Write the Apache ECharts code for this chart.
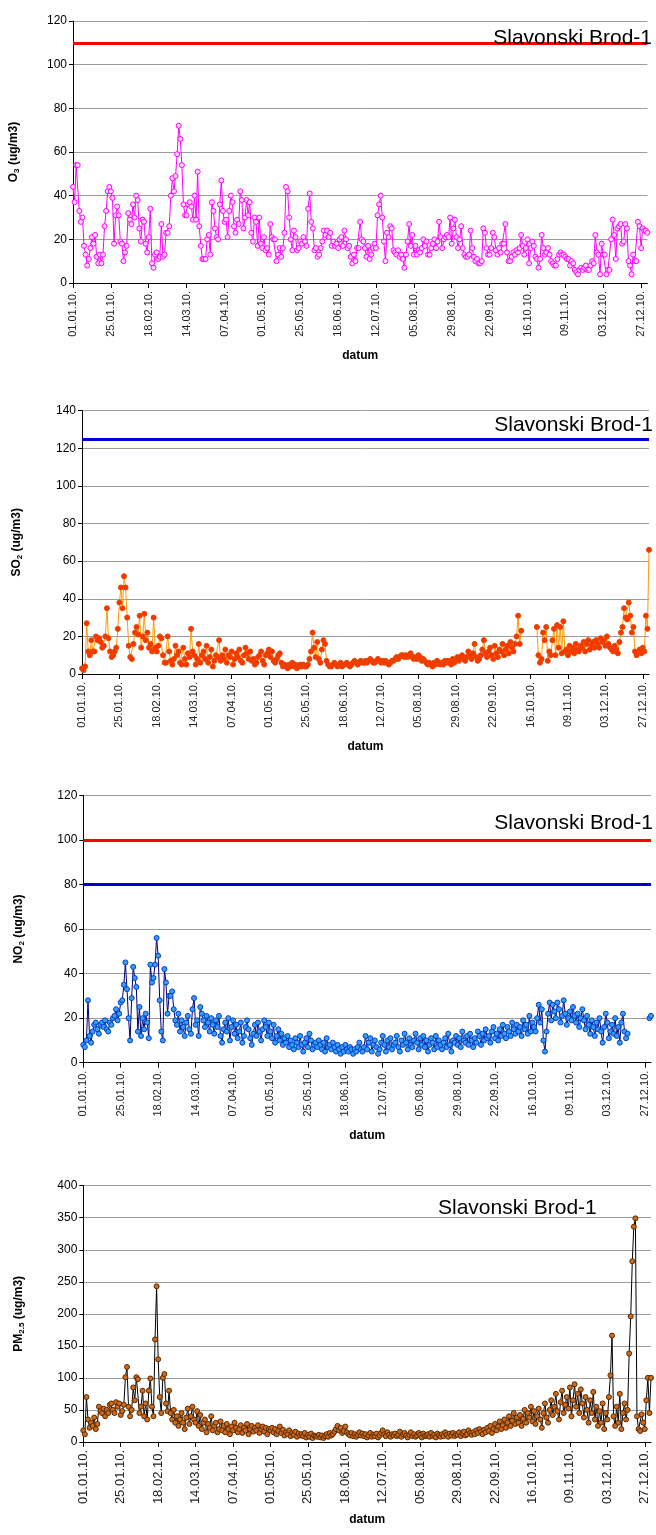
<!DOCTYPE html>
<html>
<head>
<meta charset="utf-8">
<script src="https://cdn.jsdelivr.net/npm/echarts@6/dist/echarts.min.js"></script>
<style>
  html, body { margin: 0; padding: 0; background: #ffffff; }
  #chart { width: 656px; height: 1535px; }
</style>
</head>
<body>
<div id="chart"></div>
<script>
// Daily mean concentrations, Slavonski Brod-1, year 2010 (ug/m3)
const o3 = [
  44,37,54,54,33,28,30,17,13,8,
  11,16,21,18,22,12,9,13,9,13,
  26,33,42,44,42,39,18,31,35,31,
  19,18,10,14,17,32,29,27,36,30,
  40,38,25,19,29,28,18,14,21,34,
  9,7,13,14,11,12,27,12,13,23,
  23,26,40,48,42,49,59,72,66,54,
  36,31,31,36,37,35,29,40,29,51,
  26,17,11,11,11,20,22,13,37,33,
  25,21,20,36,47,33,28,29,21,33,
  40,37,26,23,29,27,42,38,25,30,
  38,31,37,23,19,30,28,17,30,18,
  16,21,15,16,13,27,21,20,20,10,
  13,16,12,16,23,44,42,30,20,15,
  24,21,15,16,19,18,21,19,17,34,
  41,28,25,15,16,12,13,16,19,24,
  22,24,21,23,17,19,17,18,16,20,
  21,17,24,20,16,17,12,9,13,10,
  16,16,28,20,19,16,12,17,11,13,
  16,18,16,31,36,40,30,19,10,23,
  21,26,25,15,14,13,15,12,13,11,
  7,13,19,27,17,22,13,17,13,15,
  14,16,20,17,19,13,13,16,18,20,
  16,19,28,21,16,20,21,22,21,30,
  18,25,29,21,16,20,26,16,13,12,
  12,13,24,16,12,10,11,9,9,10,
  25,23,16,13,13,16,23,21,15,13,
  16,14,18,18,27,14,10,10,12,14,
  13,15,14,16,22,17,13,16,20,9,
  16,19,17,12,11,7,11,22,16,13,
  14,16,13,10,9,8,8,11,13,14,
  13,13,12,11,11,8,10,9,6,5,
  4,6,7,6,7,8,6,6,8,10,
  9,22,14,13,4,18,13,13,4,6,
  6,20,29,22,11,25,26,27,18,19,
  27,25,10,8,4,13,10,10,28,26,
  16,25,24,24,23
];

const so2 = [
  3,2,4,27,12,10,18,12,12,20,
  18,19,17,14,15,20,35,19,12,9,
  10,12,14,24,38,46,35,52,46,30,
  15,9,8,16,22,25,21,31,14,20,
  32,18,22,14,16,12,30,14,12,15,
  20,19,10,6,6,20,12,7,5,8,
  15,10,12,6,5,14,8,5,11,9,
  24,12,10,5,8,16,6,10,12,8,
  15,6,9,13,4,7,10,9,18,7,
  10,8,13,6,10,9,12,5,8,11,
  9,13,7,6,10,14,11,8,12,7,
  8,5,6,9,10,12,7,5,10,11,
  13,9,12,7,6,8,10,11,6,4,
  5,4,3,5,4,6,4,5,3,4,
  5,4,5,4,4,5,8,12,22,14,
  9,17,8,6,13,18,16,7,5,4,
  4,5,6,5,4,5,6,4,5,5,
  6,5,4,5,6,7,6,5,6,7,
  6,6,7,6,7,8,7,6,6,7,
  8,7,6,7,6,7,6,5,6,7,
  7,8,9,8,9,10,10,9,10,9,
  10,11,9,8,9,8,10,9,7,8,
  7,6,5,6,5,4,6,5,7,6,
  5,6,5,7,6,7,6,5,8,6,
  7,9,7,8,10,8,7,9,12,10,
  8,11,16,9,7,8,10,13,18,11,
  9,12,14,10,8,15,11,9,13,12,
  16,10,13,15,11,17,14,12,16,20,
  31,16,23,null,null,null,null,null,null,null,
  null,null,25,10,6,8,22,18,25,7,
  12,10,18,24,10,26,14,25,11,28,
  12,13,10,15,12,14,11,16,13,12,
  15,14,17,12,16,18,13,15,17,14,
  18,16,14,19,17,18,15,20,16,14,
  13,12,15,13,11,17,22,25,35,30,
  29,38,31,22,25,12,10,12,13,11,
  14,12,31,24,66
];

const no2 = [
  8,7,10,28,12,9,14,17,18,15,
  13,17,18,16,19,15,14,18,17,20,
  21,24,19,22,27,28,35,45,33,20,
  10,29,43,38,34,14,25,12,20,15,
  22,18,11,44,36,38,44,56,48,28,
  14,10,42,36,22,30,30,32,24,19,
  17,22,14,19,16,12,18,21,15,13,
  24,29,17,19,12,25,22,19,16,21,
  18,14,20,17,13,19,16,21,12,9,
  15,18,14,20,10,16,19,13,17,11,
  14,18,9,12,16,19,15,11,8,13,
  17,12,18,14,10,15,19,16,12,18,
  14,11,17,9,12,15,10,13,8,11,
  9,12,7,10,8,6,11,9,7,12,
  8,5,9,11,7,13,10,6,8,9,
  7,10,8,6,9,5,11,7,8,6,
  9,7,5,8,6,4,7,5,8,6,
  5,7,6,4,6,5,7,9,6,5,
  7,12,6,9,11,5,8,10,7,4,
  6,9,12,8,5,10,7,11,6,8,
  9,12,7,5,10,8,13,9,6,11,
  8,7,10,13,9,6,11,8,12,7,
  10,5,8,11,9,6,12,7,10,8,
  6,9,11,7,13,8,5,10,9,12,
  8,11,7,14,10,9,12,8,13,10,
  7,11,9,14,12,8,13,10,15,11,
  12,9,14,16,11,13,10,15,12,17,
  13,11,16,14,12,18,15,13,17,14,
  16,12,19,15,17,13,21,14,18,16,
  14,20,26,18,24,10,5,14,22,27,
  19,26,23,20,27,24,18,21,28,22,
  17,20,23,19,25,21,18,22,16,20,
  24,19,15,21,17,13,19,16,12,18,
  15,20,14,9,16,22,18,11,14,17,
  13,20,12,16,9,18,22,14,11,13,
  null,null,null,null,null,null,null,null,null,null,
  null,null,null,20,21
];

const pm25 = [
  18,12,70,35,22,30,25,38,20,28,
  55,48,45,52,40,50,45,58,60,50,
  45,62,55,60,42,48,58,101,117,55,
  40,50,85,65,101,98,45,55,80,40,
  60,35,80,99,55,40,160,243,129,70,
  45,100,106,60,48,80,45,35,50,30,
  40,25,35,45,30,20,38,52,28,40,
  55,35,30,48,25,42,20,30,35,15,
  28,22,40,18,25,30,15,20,32,18,
  25,15,28,20,12,24,18,30,22,15,
  20,26,14,22,18,28,12,20,25,16,
  22,18,26,14,20,24,16,22,12,20,
  18,22,15,20,12,17,24,14,19,10,
  15,12,18,9,14,11,16,8,13,10,
  12,9,14,7,11,8,13,6,10,9,
  8,11,7,10,6,9,12,8,14,10,
  12,16,20,25,18,22,14,17,24,15,
  12,10,14,9,12,8,11,15,10,13,
  9,12,7,10,14,8,11,9,13,7,
  10,14,18,12,9,15,11,8,12,10,
  13,9,11,16,8,12,14,10,7,11,
  15,9,12,8,10,14,11,7,13,9,
  10,12,8,14,9,11,7,13,10,8,
  12,9,15,11,8,13,10,14,9,12,
  11,15,9,13,16,10,12,18,14,11,
  15,12,18,14,20,16,12,19,15,22,
  17,25,14,20,28,18,24,32,20,26,
  35,22,30,40,25,33,45,28,38,30,
  42,25,36,50,30,45,38,55,32,48,
  28,40,52,35,22,45,60,38,30,50,
  65,42,55,75,48,35,62,80,45,58,
  70,52,85,40,65,90,55,75,45,82,
  60,38,70,50,30,65,45,78,35,55,
  25,48,30,60,20,45,35,70,104,166,
  40,25,55,30,75,20,45,60,35,50,
  138,196,282,336,349,40,20,17,43,30,
  20,65,100,45,100
];

// Limit values drawn as horizontal reference lines
const o3Limits = [{ value: 110, color: '#ff0000' }];
const so2Limits = [{ value: 125, color: '#0000dd' }];
const no2Limits = [{ value: 100, color: '#ff0000' }, { value: 80, color: '#0000dd' }];
const pm25Limits = [];

const yMax = [120, 140, 120, 400];
const yStep = [20, 20, 20, 50];
const stationName = 'Slavonski Brod-1';

// One category per day of 2010, labelled dd.mm.yy.
const categories = [];
for (let d = 0; d < 365; d++) {
  const dt = new Date(2010, 0, 1 + d);
  const dd = String(dt.getDate()).padStart(2, '0');
  const mm = String(dt.getMonth() + 1).padStart(2, '0');
  categories.push(dd + '.' + mm + '.10.');
}

const FONT = '"Liberation Sans", Arial, sans-serif';

const panels = [
  { grid: { left: 73, top: 21, width: 574.4, height: 262 },
    data: o3, limits: o3Limits, sub: '3', base: 'O',
    line: '#ff00ff', fill: '#ffd6ff', border: '#ff00ff',
    xFont: 11, nameGap: 52, xNameGap: 67 },
  { grid: { left: 82, top: 410.7, width: 567, height: 263.3 },
    data: so2, limits: so2Limits, sub: '2', base: 'SO',
    line: '#ff9a00', fill: '#ff3300', border: '#e04a00',
    xFont: 11, nameGap: 58, xNameGap: 67 },
  { grid: { left: 83.3, top: 795.3, width: 567.7, height: 267.4 },
    data: no2, limits: no2Limits, sub: '2', base: 'NO',
    line: '#00006e', fill: '#3a9cff', border: '#0040c0',
    xFont: 11, nameGap: 58, xNameGap: 67 },
  { grid: { left: 83.3, top: 1185.7, width: 567.7, height: 256.2 },
    data: pm25, limits: pm25Limits, sub: '2.5', base: 'PM',
    line: '#000000', fill: '#cc6a1e', border: '#5a2a00',
    xFont: 13, nameGap: 58, xNameGap: 72 }
];

const grids = [], xAxes = [], yAxes = [], series = [];
panels.forEach((p, i) => {
  grids.push(p.grid);
  xAxes.push({
    type: 'category', gridIndex: i, data: categories, boundaryGap: false,
    axisLine: { show: true, lineStyle: { color: '#000', width: 1 } },
    axisTick: { show: true, interval: 23, length: 5, lineStyle: { color: '#000' } },
    axisLabel: { interval: 23, rotate: 90, fontSize: p.xFont, color: '#222',
                 fontFamily: FONT, margin: 8 },
    splitLine: { show: false },
    name: 'datum', nameLocation: 'middle', nameGap: p.xNameGap,
    nameTextStyle: { fontWeight: 'bold', fontSize: 12, color: '#000', fontFamily: FONT }
  });
  yAxes.push({
    type: 'value', gridIndex: i, min: 0, max: yMax[i], interval: yStep[i],
    axisLine: { show: true, lineStyle: { color: '#000', width: 1 } },
    axisTick: { show: true, length: 4, lineStyle: { color: '#000' } },
    axisLabel: { fontSize: 12, color: '#000', fontFamily: FONT, margin: 6 },
    splitLine: { show: true, lineStyle: { color: '#9c9c9c', width: 1 } },
    name: '{b|' + p.base + '}{s|' + p.sub + '}{b| (ug/m3)}',
    nameLocation: 'middle', nameRotate: 90, nameGap: p.nameGap,
    nameTextStyle: {
      rich: {
        b: { fontWeight: 'bold', fontSize: 12, color: '#000', fontFamily: FONT },
        s: { fontWeight: 'bold', fontSize: 8, color: '#000', fontFamily: FONT,
             padding: [6, 0, 0, 0] }
      }
    }
  });
  series.push({
    type: 'line', xAxisIndex: i, yAxisIndex: i, data: p.data,
    connectNulls: false, symbol: 'circle', symbolSize: 5,
    showSymbol: true, showAllSymbol: true,
    lineStyle: { color: p.line, width: 1 },
    itemStyle: { color: p.fill, borderColor: p.border, borderWidth: 1 },
    emphasis: { disabled: true },
    markLine: p.limits.length ? {
      silent: true, symbol: ['none', 'none'], animation: false,
      label: { show: false },
      data: p.limits.map(l => ({ yAxis: l.value,
        lineStyle: { color: l.color, width: 3, type: 'solid' } }))
    } : undefined,
    z: 3
  });
});

const titleStyle = { fontSize: 21, fontWeight: 'normal', color: '#000', fontFamily: FONT };
const titles = [
  { text: stationName, right: 4, top: 28, textStyle: titleStyle, padding: 0 },
  { text: stationName, right: 3, top: 415, textStyle: titleStyle, padding: 0 },
  { text: stationName, right: 3, top: 813, textStyle: titleStyle, padding: 0 },
  { text: stationName, left: 438, top: 1198, textStyle: titleStyle, padding: 0 }
];

const chart = echarts.init(document.getElementById('chart'), null, { renderer: 'canvas' });
chart.setOption({
  animation: false,
  backgroundColor: '#ffffff',
  title: titles,
  grid: grids,
  xAxis: xAxes,
  yAxis: yAxes,
  series: series
});
</script>
</body>
</html>
